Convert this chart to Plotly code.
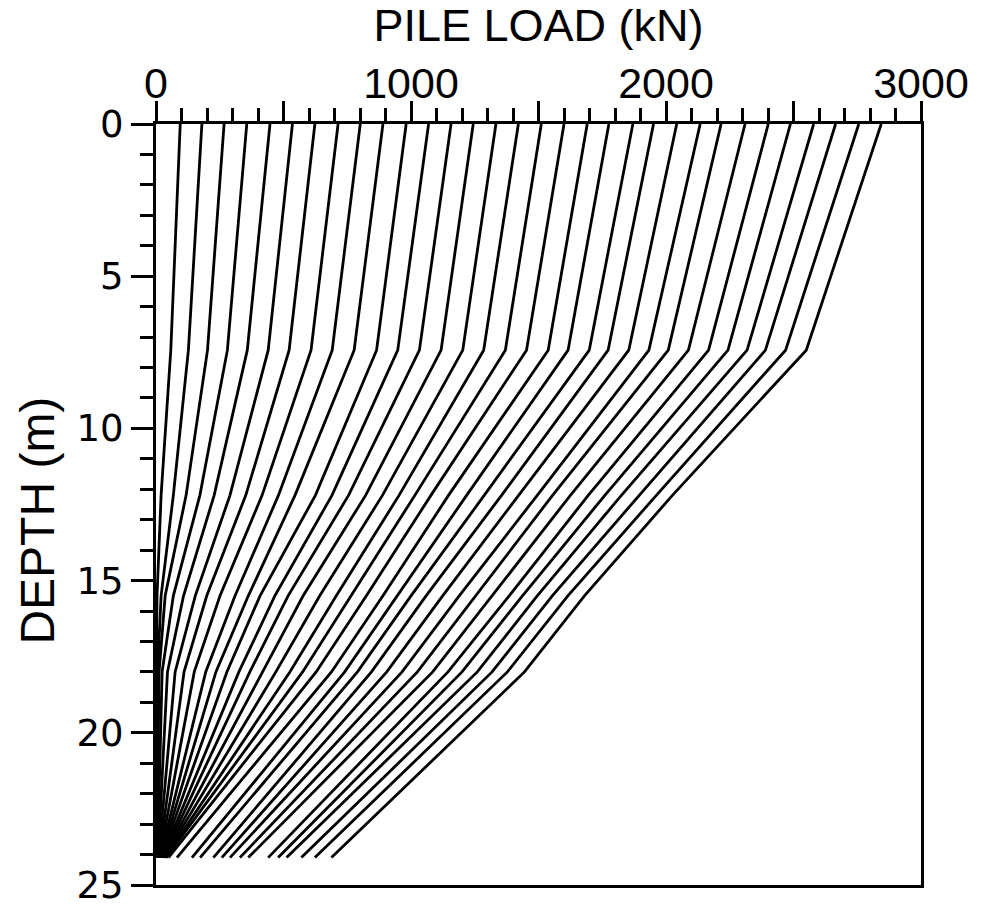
import plotly.graph_objects as go

# Depth stations (m) at which each load-transfer curve is read
depth_m = [0, 7.43, 12.2, 15.5, 18.0, 24.1]

# Pile load (kN) of each curve at those depths
load_0 = [95, 180, 267, 356, 447, 535, 623, 714, 801, 890, 981, 1069, 1157, 1244, 1333, 1421,
          1511, 1600, 1691, 1776, 1870, 1951, 2042, 2134, 2216, 2310, 2401, 2488, 2579, 2665, 2756, 2844]
load_7 = [58, 127, 202, 280, 358, 440, 522, 608, 691, 777, 865, 948, 1033, 1118, 1203, 1285,
          1370, 1453, 1538, 1616, 1699, 1773, 1854, 1933, 2009, 2088, 2167, 2243, 2318, 2390, 2469, 2550]
load_12 = [20, 68, 118, 172, 228, 290, 352, 416, 480, 545, 625, 690, 755, 822, 888, 953,
           1015, 1078, 1147, 1218, 1287, 1355, 1422, 1495, 1555, 1625, 1695, 1760, 1825, 1895, 1962, 2025]
load_15 = [4, 20, 36, 68, 108, 154, 199, 251, 310, 362, 408, 466, 518, 577, 642, 707,
           766, 825, 890, 948, 1000, 1059, 1124, 1189, 1255, 1319, 1385, 1437, 1495, 1554, 1615, 1680]
load_18 = [1, 6, 12, 24, 45, 75, 110, 150, 195, 235, 278, 325, 368, 418, 470, 525,
           575, 628, 688, 740, 790, 845, 905, 965, 1025, 1085, 1145, 1200, 1260, 1318, 1378, 1445]
load_toe = [0, 2, 4, 6, 8, 10, 12, 14, 16, 18, 20, 23, 26, 29, 32, 36,
            40, 49, 82, 141, 173, 225, 258, 290, 329, 362, 440, 479, 512, 570, 623, 688]

x_tickvals = [0, 500, 1000, 1500, 2000, 2500, 3000]
x_ticktext = ["0", "", "1000", "", "2000", "", "3000"]
y_tickvals = [0, 5, 10, 15, 20, 25]
y_ticktext = ["0", "5", "10", "15", "20", "25"]

fig = go.Figure()
for i in range(len(load_0)):
    fig.add_trace(go.Scatter(
        x=[load_0[i], load_7[i], load_12[i], load_15[i], load_18[i], load_toe[i]],
        y=depth_m,
        mode="lines",
        line=dict(color="black", width=2.8),
        showlegend=False,
        hoverinfo="skip",
    ))

title_font = dict(family="Liberation Sans", size=45, color="black")

fig.update_layout(
    width=981, height=919,
    margin=dict(l=156, r=58, t=124, b=25),
    plot_bgcolor="white", paper_bgcolor="white",
    showlegend=False,
)

fig.update_xaxes(
    side="top", range=[0, 3000],
    tickvals=x_tickvals, ticktext=x_ticktext,
    ticks="outside", ticklen=20, tickwidth=2.5, tickcolor="black",
    minor=dict(dtick=100, tick0=0, ticks="outside", ticklen=13, tickwidth=2.5, tickcolor="black", showgrid=False),
    showline=True, linewidth=3, linecolor="black", mirror=True,
    showgrid=False, zeroline=False,
    tickfont=dict(family="Liberation Sans", size=43, color="black"),
    ticklabelstandoff=-14,
    title=dict(text="PILE LOAD (kN)", font=title_font, standoff=4),
)

fig.update_yaxes(
    range=[25, 0],
    tickvals=y_tickvals, ticktext=y_ticktext,
    ticks="outside", ticklen=22, tickwidth=2.5, tickcolor="black",
    minor=dict(dtick=1, tick0=0, ticks="outside", ticklen=13, tickwidth=2.5, tickcolor="black", showgrid=False),
    showline=True, linewidth=3, linecolor="black", mirror=True,
    showgrid=False, zeroline=False,
    tickfont=dict(family="DejaVu Sans", size=37, color="black"),
)

fig.add_annotation(
    text="DEPTH (m)", textangle=-90,
    xref="paper", yref="paper",
    x=(37 - 156) / 767, y=1 - (525 - 124) / 770,
    xanchor="center", yanchor="middle", showarrow=False,
    font=dict(family="Liberation Sans", size=48, color="black"),
)

fig.write_html("out.html")
